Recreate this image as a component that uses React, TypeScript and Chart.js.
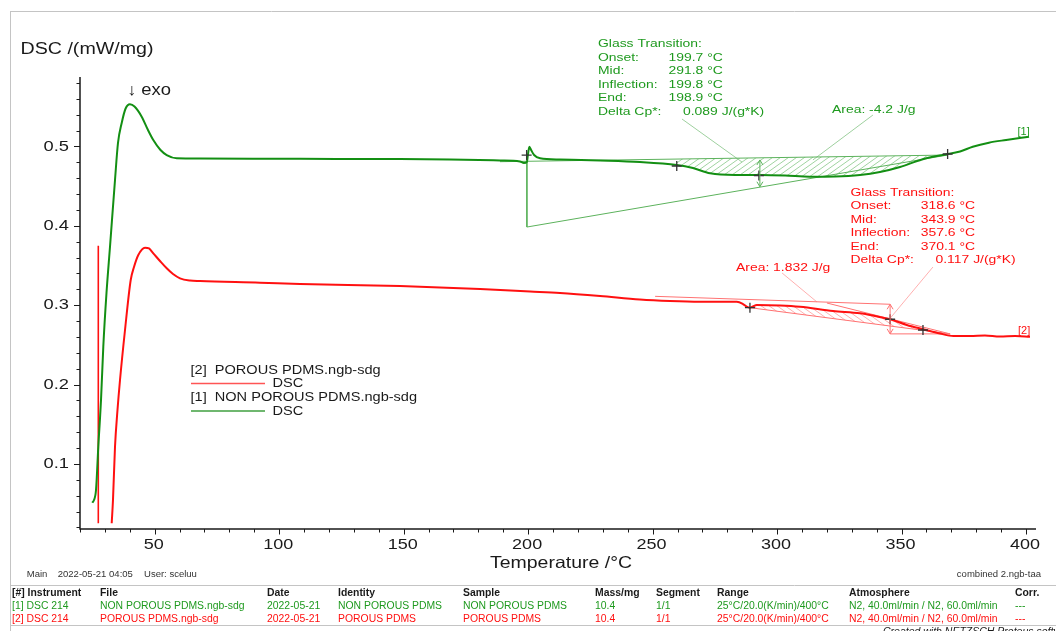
import React, { useEffect, useRef } from "react";
import { Chart, registerables } from "chart.js";

Chart.register(...registerables);

// ---------------- data ----------------
// [1] NON POROUS PDMS (green)
const greenTemp = [24.94, 25.62, 26.43, 27.35, 28.44, 29.36, 30.64, 32.05, 34.06, 35.26, 36.75, 38.28, 40.08, 41.89, 44.78, 47.31, 49.44, 52.33, 54.83, 58.84, 68.2, 108.4, 148.5, 168.6, 188.7, 196.7, 198.3, 199.5, 199.9, 200.5, 201.2, 202.4, 204.8, 212.8, 228.9, 244.9, 259.7, 266.2, 273.1, 283.1, 293.1, 303.2, 313.2, 323.3, 333.3, 341.3, 349.4, 358.2, 368.5, 373.5, 378.6, 385.1, 392.0, 401.2];
const greenDsc = [0.0511, 0.0545, 0.0671, 0.1217, 0.1805, 0.2477, 0.3153, 0.3736, 0.4577, 0.5043, 0.5295, 0.5474, 0.553, 0.5502, 0.5374, 0.5206, 0.508, 0.4954, 0.4891, 0.485, 0.4847, 0.4843, 0.4841, 0.4835, 0.4822, 0.481, 0.4791, 0.4803, 0.4891, 0.4996, 0.4954, 0.4891, 0.485, 0.4835, 0.4822, 0.4803, 0.4765, 0.4727, 0.4661, 0.464, 0.464, 0.4633, 0.4618, 0.4621, 0.464, 0.4677, 0.474, 0.4835, 0.4904, 0.4936, 0.4996, 0.5047, 0.5081, 0.5122];

// [2] POROUS PDMS (red)
const redTemp = [32.73, 33.25, 34.06, 35.06, 36.07, 38.08, 40.37, 41.69, 43.42, 46.11, 47.72, 49.44, 52.13, 54.83, 57.36, 60.17, 64.18, 68.2, 92.3, 108.4, 148.5, 180.7, 200.8, 212.8, 228.9, 244.9, 257.0, 269.0, 283.8, 286.3, 287.8, 289.1, 290.3, 291.8, 301.2, 309.2, 322.5, 333.3, 339.3, 345.4, 352.1, 358.7, 365.4, 370.8, 377.5, 383.5, 389.5, 395.6, 401.6];
const redDsc = [0.0252, 0.0545, 0.1217, 0.1679, 0.2057, 0.2687, 0.3317, 0.3481, 0.3632, 0.3724, 0.3714, 0.3653, 0.3556, 0.3464, 0.3392, 0.3338, 0.331, 0.3304, 0.3283, 0.3266, 0.3241, 0.3203, 0.3172, 0.3153, 0.3115, 0.3071, 0.3052, 0.3043, 0.3043, 0.3014, 0.298, 0.2968, 0.2983, 0.3002, 0.2996, 0.298, 0.2926, 0.2897, 0.2863, 0.2822, 0.275, 0.2696, 0.2643, 0.2611, 0.2611, 0.2618, 0.2605, 0.2611, 0.2603];
const redStartTemp = [27.35, 27.35];
const redStartDsc = [0.0252, 0.3749];

// axes
const xMin = 20;
const xMax = 404;
const yMin = 0.018;
const yMax = 0.5874;
const xMajorTicks = [50, 100, 150, 200, 250, 300, 350, 400];
const xMinorTicks = [20, 30, 40, 60, 70, 80, 90, 110, 120, 130, 140, 160, 170, 180, 190, 210, 220, 230, 240, 260, 270, 280, 290, 310, 320, 330, 340, 360, 370, 380, 390];
const yMajorTicks = [0.1, 0.2, 0.3, 0.4, 0.5];
const yMinorTicks = [0.02, 0.04, 0.06, 0.08, 0.12, 0.14, 0.16, 0.18, 0.22, 0.24, 0.26, 0.28, 0.32, 0.34, 0.36, 0.38, 0.42, 0.44, 0.46, 0.48, 0.52, 0.54, 0.56, 0.58];
const xTickLabels = ["50", "100", "150", "200", "250", "300", "350", "400"];
const yTickLabels = ["0.1", "0.2", "0.3", "0.4", "0.5"];

// green glass transition construction
const gUpperT = [188.7, 368.5];
const gUpperV = [0.4807, 0.4891];
const gStepT = [199.5, 199.5];
const gStepV = [0.4807, 0.3984];
const gLowerT = [199.5, 368.5];
const gLowerV = [0.3984, 0.4891];
const gArrowT = [293.1, 293.1];
const gArrowV = [0.4829, 0.4492];
const gCpLeadT = [261.8, 285.9];
const gCpLeadV = [0.5345, 0.4803];
const gAreaLeadT = [338.5, 314.4];
const gAreaLeadV = [0.5395, 0.4829];
const gMarkT = [199.4, 259.7, 292.7, 368.5];
const gMarkV = [0.4891, 0.4753, 0.4633, 0.4904];
const gHatchRange = [259.7, 368.5];

// red glass transition construction
const rUpperT = [251.0, 345.4];
const rUpperV = [0.3111, 0.3011];
const rArrowT = [345.4, 345.4];
const rArrowV = [0.3011, 0.2638];
const rBottomT = [345.4, 369.5];
const rBottomV = [0.2638, 0.2638];
const rLowerT = [289.1, 369.5];
const rLowerV = [0.2968, 0.2638];
const rTangentT = [320.0, 369.5];
const rTangentV = [0.3027, 0.2638];
const rAreaLeadT = [302.0, 316.0];
const rAreaLeadV = [0.3405, 0.304];
const rCpLeadT = [362.6, 345.4];
const rCpLeadV = [0.348, 0.2834];
const rMarkT = [289.1, 345.4, 358.6];
const rMarkV = [0.2968, 0.2822, 0.2687];
const rHatchRange = [289.1, 369.5];

// texts
const gtLabels = ["Glass Transition:", "Onset:", "Mid:", "Inflection:", "End:", "Delta Cp*:"];
const greenGtValues = ["", "199.7 °C", "291.8 °C", "199.8 °C", "198.9 °C", "0.089 J/(g*K)"];
const redGtValues = ["", "318.6 °C", "343.9 °C", "357.6 °C", "370.1 °C", "0.117 J/(g*K)"];
const greenArea = "Area: -4.2 J/g";
const redArea = "Area: 1.832 J/g";
const legendNames = ["[2]  POROUS PDMS.ngb-sdg", "[1]  NON POROUS PDMS.ngb-sdg"];
const tableHeader = ["[#] Instrument", "File", "Date", "Identity", "Sample", "Mass/mg", "Segment", "Range", "Atmosphere", "Corr."];
const tableRow1 = ["[1] DSC 214", "NON POROUS PDMS.ngb-sdg", "2022-05-21", "NON POROUS PDMS", "NON POROUS PDMS", "10.4", "1/1", "25°C/20.0(K/min)/400°C", "N2, 40.0ml/min / N2, 60.0ml/min", "---"];
const tableRow2 = ["[2] DSC 214", "POROUS PDMS.ngb-sdg", "2022-05-21", "POROUS PDMS", "POROUS PDMS", "10.4", "1/1", "25°C/20.0(K/min)/400°C", "N2, 40.0ml/min / N2, 60.0ml/min", "---"];

// ---------------- style ----------------
const GREEN = "#138f13";
const GREEN_TXT = "#1f9a1f";
const GREEN_THIN = "#5cb25c";
const RED = "#ff1010";
const RED_THIN = "#ff7272";
const FONT = '"Liberation Sans", Arial, Helvetica, sans-serif';
const tableCols = [12, 100, 267, 338, 463, 595, 656, 717, 849, 1015];

const zip = (xs: number[], ys: number[]) => xs.map((x, i) => ({ x, y: ys[i] }));

function interp(xs: number[], ys: number[], t: number) {
  if (t <= xs[0]) return ys[0];
  for (let i = 1; i < xs.length; i++) {
    if (t <= xs[i]) {
      const f = (t - xs[i - 1]) / (xs[i] - xs[i - 1]);
      return ys[i - 1] + f * (ys[i] - ys[i - 1]);
    }
  }
  return ys[ys.length - 1];
}

function txt(
  ctx: CanvasRenderingContext2D,
  s: string,
  x: number,
  y: number,
  size: number,
  color: string,
  o: { align?: string; sx?: number; w?: number; bold?: boolean; italic?: boolean } = {}
) {
  ctx.save();
  ctx.font = `${o.italic ? "italic " : ""}${o.bold ? "bold " : ""}${size}px ${FONT}`;
  ctx.fillStyle = color;
  ctx.textBaseline = "middle";
  ctx.textAlign = "left";
  const m = ctx.measureText(s).width;
  const sx = o.w ? o.w / m : o.sx ?? 1;
  let left = x;
  if (o.align === "center") left = x - (m * sx) / 2;
  else if (o.align === "right") left = x - m * sx;
  ctx.translate(left, y);
  ctx.scale(sx, 1);
  ctx.fillText(s, 0, 0);
  ctx.restore();
}

function hatch(chart: any, poly: { x: number; y: number }[], color: string, dir: number) {
  const { ctx } = chart;
  const xs = chart.scales.x;
  const ys = chart.scales.y;
  const pts = poly.map((p) => ({ x: xs.getPixelForValue(p.x), y: ys.getPixelForValue(p.y) }));
  let minX = Infinity, maxX = -Infinity, minY = Infinity, maxY = -Infinity;
  pts.forEach((p) => {
    minX = Math.min(minX, p.x); maxX = Math.max(maxX, p.x);
    minY = Math.min(minY, p.y); maxY = Math.max(maxY, p.y);
  });
  ctx.save();
  ctx.beginPath();
  pts.forEach((p, i) => (i ? ctx.lineTo(p.x, p.y) : ctx.moveTo(p.x, p.y)));
  ctx.closePath();
  ctx.clip();
  const H = maxY - minY + 2;
  const D = H * 1.4;
  ctx.strokeStyle = color;
  ctx.lineWidth = 0.8;
  ctx.beginPath();
  for (let k = minX - D - 10; k < maxX + 10; k += 8) {
    if (dir > 0) {
      ctx.moveTo(k, maxY + 1);
      ctx.lineTo(k + D, minY - 1);
    } else {
      ctx.moveTo(k, minY - 1);
      ctx.lineTo(k + D, maxY + 1);
    }
  }
  ctx.stroke();
  ctx.restore();
}

function arrow(chart: any, T: number[], V: number[], color: string) {
  const { ctx } = chart;
  const xs = chart.scales.x;
  const ys = chart.scales.y;
  const x = xs.getPixelForValue(T[0]);
  const y1 = ys.getPixelForValue(V[0]);
  const y2 = ys.getPixelForValue(V[1]);
  ctx.save();
  ctx.strokeStyle = color;
  ctx.lineWidth = 1;
  ctx.beginPath();
  ctx.moveTo(x, y1);
  ctx.lineTo(x, y2);
  ctx.moveTo(x - 3, y1 + 5);
  ctx.lineTo(x, y1);
  ctx.lineTo(x + 3, y1 + 5);
  ctx.moveTo(x - 3, y2 - 5);
  ctx.lineTo(x, y2);
  ctx.lineTo(x + 3, y2 - 5);
  ctx.stroke();
  ctx.restore();
}

const decor = {
  id: "dscDecor",
  beforeDatasetsDraw(chart: any) {
    // green hatch: between upper tangent and curve
    const gUp = [gHatchRange[0], gHatchRange[1]].map((t) => ({ x: t, y: interp(gUpperT, gUpperV, t) }));
    const gCurve = zip(greenTemp, greenDsc).filter((p) => p.x >= gHatchRange[0] && p.x <= gHatchRange[1]).reverse();
    hatch(chart, [...gUp, ...gCurve], "#86c886", 1);
    // red hatch: between curve and lower line
    const rLo = [rHatchRange[0], rHatchRange[1]].map((t) => ({ x: t, y: interp(rLowerT, rLowerV, t) }));
    const rCurve = zip(redTemp, redDsc).filter((p) => p.x >= rHatchRange[0] && p.x <= rHatchRange[1]);
    rCurve.push({ x: rHatchRange[1], y: interp(redTemp, redDsc, rHatchRange[1]) });
    hatch(chart, [...rLo, ...rCurve.reverse()], "#ff9a9a", -1);
  },
  afterDraw(chart: any) {
    const { ctx } = chart;
    const xs = chart.scales.x;
    const ys = chart.scales.y;
    const { left, right, top, bottom } = chart.chartArea;

    // frame lines
    ctx.save();
    ctx.strokeStyle = "#c4c4c4";
    ctx.lineWidth = 1;
    ctx.beginPath();
    ctx.moveTo(10, 11.5); ctx.lineTo(1056, 11.5);
    ctx.moveTo(10.5, 11); ctx.lineTo(10.5, 631);
    ctx.moveTo(10, 585.5); ctx.lineTo(1056, 585.5);
    ctx.moveTo(10, 625.5); ctx.lineTo(1056, 625.5);
    ctx.stroke();
    ctx.restore();

    // arrows
    arrow(chart, gArrowT, gArrowV, GREEN_THIN);
    arrow(chart, rArrowT, rArrowV, RED_THIN);

    // axes
    ctx.save();
    ctx.strokeStyle = "#1a1a1a";
    ctx.lineWidth = 1.5;
    ctx.beginPath();
    ctx.moveTo(left, top);
    ctx.lineTo(left, bottom);
    ctx.lineTo(right, bottom);
    ctx.stroke();
    ctx.lineWidth = 1;
    ctx.beginPath();
    xMajorTicks.forEach((v) => {
      const p = Math.round(xs.getPixelForValue(v)) + 0.5;
      ctx.moveTo(p, bottom); ctx.lineTo(p, bottom + 5.5);
    });
    xMinorTicks.forEach((v) => {
      const p = Math.round(xs.getPixelForValue(v)) + 0.5;
      ctx.moveTo(p, bottom); ctx.lineTo(p, bottom + 3.5);
    });
    yMajorTicks.forEach((v) => {
      const p = Math.round(ys.getPixelForValue(v)) + 0.5;
      ctx.moveTo(left, p); ctx.lineTo(left - 6, p);
    });
    yMinorTicks.forEach((v) => {
      const p = Math.round(ys.getPixelForValue(v)) + 0.5;
      ctx.moveTo(left, p); ctx.lineTo(left - 3.5, p);
    });
    ctx.stroke();
    ctx.restore();

    xMajorTicks.forEach((v, i) => txt(ctx, xTickLabels[i], xs.getPixelForValue(v) - 1, 545, 15, "#1a1a1a", { align: "center", sx: 1.2 }));
    yMajorTicks.forEach((v, i) => txt(ctx, yTickLabels[i], 69, ys.getPixelForValue(v), 15, "#1a1a1a", { align: "right", sx: 1.22 }));

    // axis titles
    txt(ctx, "DSC /(mW/mg)", 20.5, 50, 16, "#1a1a1a", { w: 133 });
    txt(ctx, "Temperature /°C", 490, 563, 16.5, "#1a1a1a", { w: 142 });
    txt(ctx, "↓ exo", 127, 90, 16.5, "#1a1a1a", { w: 44 });

    // green glass transition block
    gtLabels.forEach((s, i) => {
      const y = 44 + i * 13.5;
      txt(ctx, s, 598, y, 11.6, GREEN_TXT, { sx: 1.2 });
      if (greenGtValues[i]) txt(ctx, greenGtValues[i], i === 5 ? 683 : 668.5, y, 11.6, GREEN_TXT, { sx: 1.2 });
    });
    txt(ctx, greenArea, 832, 109.5, 11.6, GREEN_TXT, { sx: 1.2 });

    // red glass transition block
    gtLabels.forEach((s, i) => {
      const y = 192.7 + i * 13.47;
      txt(ctx, s, 850.5, y, 11.6, RED, { sx: 1.2 });
      if (redGtValues[i]) txt(ctx, redGtValues[i], i === 5 ? 935.5 : 920.7, y, 11.6, RED, { sx: 1.2 });
    });
    txt(ctx, redArea, 736, 268, 11.6, RED, { sx: 1.2 });

    // curve labels
    txt(ctx, "[1]", 1017.5, 132, 10, GREEN_TXT, { sx: 1.1 });
    txt(ctx, "[2]", 1018, 331.5, 10, RED, { sx: 1.1 });

    // legend
    txt(ctx, legendNames[0], 190.5, 370.7, 13, "#1a1a1a", { sx: 1.12 });
    txt(ctx, "DSC", 272.5, 383.5, 13, "#1a1a1a", { sx: 1.12 });
    txt(ctx, legendNames[1], 190.5, 397, 13, "#1a1a1a", { sx: 1.12 });
    txt(ctx, "DSC", 272.5, 411, 13, "#1a1a1a", { sx: 1.12 });
    ctx.save();
    ctx.lineWidth = 1.5;
    ctx.strokeStyle = "#ff5555";
    ctx.beginPath(); ctx.moveTo(191, 383.5); ctx.lineTo(265, 383.5); ctx.stroke();
    ctx.strokeStyle = "#3f9f3f";
    ctx.beginPath(); ctx.moveTo(191, 411); ctx.lineTo(265, 411); ctx.stroke();
    ctx.restore();

    // footer info
    txt(ctx, "Main", 26.7, 574.5, 8.5, "#333", { sx: 1.12 });
    txt(ctx, "2022-05-21 04:05", 57.7, 574.5, 8.5, "#333", { sx: 1.12 });
    txt(ctx, "User: sceluu", 144, 574.5, 8.5, "#333", { sx: 1.12 });
    txt(ctx, "combined 2.ngb-taa", 1041, 574.5, 8.5, "#333", { sx: 1.12, align: "right" });

    // table
    tableHeader.forEach((s, i) => txt(ctx, s, tableCols[i], 593, 10, "#1a1a1a", { bold: true, sx: 1.04 }));
    tableRow1.forEach((s, i) => txt(ctx, s, tableCols[i], 606, 10, GREEN_TXT, { sx: 1.04 }));
    tableRow2.forEach((s, i) => txt(ctx, s, tableCols[i], 619.3, 10, RED, { sx: 1.04 }));
    txt(ctx, "Created with NETZSCH Proteus software", 883, 632.5, 10, "#1a1a1a", { italic: true, sx: 1.05 });
  },
};

const thin = (label: string, T: number[], V: number[], color: string) => ({
  label,
  data: zip(T, V),
  borderColor: color,
  borderWidth: 1,
  pointRadius: 0,
  fill: false,
});

export default function App() {
  const ref = useRef<HTMLCanvasElement | null>(null);
  useEffect(() => {
    if (!ref.current) return;
    const chart = new Chart(ref.current, {
      type: "line",
      data: {
        datasets: [
          {
            label: "green markers",
            data: zip(gMarkT, gMarkV),
            showLine: false,
            pointStyle: "cross",
            pointRadius: 5,
            pointBorderWidth: 1.3,
            pointBorderColor: "#333",
            borderColor: "#333",
          } as any,
          {
            label: "red markers",
            data: zip(rMarkT, rMarkV),
            showLine: false,
            pointStyle: "cross",
            pointRadius: 5,
            pointBorderWidth: 1.3,
            pointBorderColor: "#333",
            borderColor: "#333",
          } as any,
          {
            label: "[1] NON POROUS PDMS DSC",
            data: zip(greenTemp, greenDsc),
            borderColor: GREEN,
            borderWidth: 2,
            pointRadius: 0,
            cubicInterpolationMode: "monotone",
          } as any,
          {
            label: "[2] POROUS PDMS DSC",
            data: zip(redTemp, redDsc),
            borderColor: RED,
            borderWidth: 2,
            pointRadius: 0,
            cubicInterpolationMode: "monotone",
          } as any,
          {
            label: "[2] start",
            data: zip(redStartTemp, redStartDsc),
            borderColor: RED,
            borderWidth: 1.6,
            pointRadius: 0,
          },
          thin("g upper", gUpperT, gUpperV, GREEN_THIN),
          thin("g step", gStepT, gStepV, GREEN_THIN),
          thin("g lower", gLowerT, gLowerV, GREEN_THIN),
          thin("g cp lead", gCpLeadT, gCpLeadV, "#9ed09e"),
          thin("g area lead", gAreaLeadT, gAreaLeadV, "#9ed09e"),
          thin("r upper", rUpperT, rUpperV, RED_THIN),
          thin("r bottom", rBottomT, rBottomV, RED_THIN),
          thin("r lower", rLowerT, rLowerV, RED_THIN),
          thin("r tangent", rTangentT, rTangentV, RED_THIN),
          thin("r area lead", rAreaLeadT, rAreaLeadV, "#ffb0b0"),
          thin("r cp lead", rCpLeadT, rCpLeadV, "#ffb0b0"),
        ],
      },
      options: {
        responsive: false,
        animation: false,
        events: [],
        layout: { padding: { left: 80, right: 20, top: 77, bottom: 102 } },
        scales: {
          x: { type: "linear", min: xMin, max: xMax, display: false },
          y: { type: "linear", min: yMin, max: yMax, display: false },
        },
        plugins: {
          legend: { display: false },
          tooltip: { enabled: false },
        },
      },
      plugins: [decor],
    });
    return () => chart.destroy();
  }, []);

  return (
    <div style={{ position: "absolute", left: 0, top: 0, width: 1056, height: 631, background: "#fff", overflow: "hidden" }}>
      <canvas ref={ref} width={1056} height={631} style={{ display: "block" }} />
    </div>
  );
}
